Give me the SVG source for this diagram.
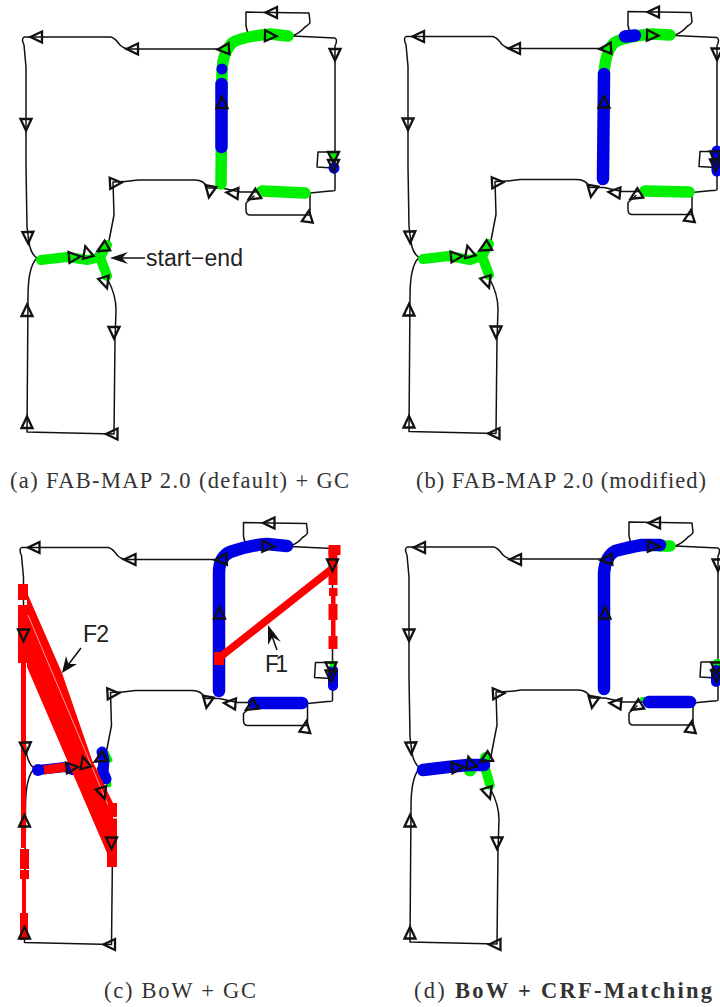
<svg xmlns="http://www.w3.org/2000/svg" xmlns:xlink="http://www.w3.org/1999/xlink" width="720" height="1007" viewBox="0 0 720 1007">
<style>
.bg{fill:#fff}
.trk{fill:none;stroke:#111;stroke-width:1.5;stroke-linejoin:round;stroke-linecap:round}
.tri{fill:none;stroke:#111;stroke-width:2.3;stroke-linejoin:miter}
.g{fill:none;stroke:#00f000;stroke-width:11.500;stroke-linecap:round;stroke-linejoin:round}
.b{fill:none;stroke:#0000e6;stroke-width:12.500;stroke-linecap:round;stroke-linejoin:round}
.gd{fill:#00f000}.bd{fill:#0000e6}
.r{fill:#ff0000}.rl{fill:none;stroke:#ff0000;stroke-linecap:butt}
.cap{font-family:"Liberation Serif","Times New Roman",serif;font-size:22.500px;fill:#333}
.lab{font-family:"Liberation Sans",Arial,sans-serif;font-size:23px;fill:#222}
.ar{fill:#111}.al{stroke:#111;stroke-width:1.5;fill:none}
</style>
<defs>
<polygon id="t" class="tri" points="-5,-5.500 6.500,0 -5,5.500"/>
<path id="track" class="trk" d="M27 432L28 297Q28 268 36 259M37 258Q31 254 29 243L27 227L26 167L26 67L24 45Q21 39 24 37L111 37Q115 38 120 45Q124 49 130 49L222 49Q232 38 270 34L292 36L335 38Q338 40 335 46L335 190Q335 191 330 191L310 193L258 192L240 192L222 188Q215 188 208 188Q204 180 195 180L138 180Q125 182 113 182L114 215L108 246L100 258L108 280Q116 295 116 310L115 340L114 434L27 432M292 36Q300 33 305 27Q310 24 310 22L309 13L246 12L246 26L248 34M310 194L310 215L250 215Q246 215 246 210L246 203L254 196M333 152L318 152L317 167L333 168"/>
<g id="arrows">
<use xlink:href="#t" href="#t" transform="translate(272 12.500) rotate(180)"/>
<use xlink:href="#t" href="#t" transform="translate(37 37) rotate(180)"/>
<use xlink:href="#t" href="#t" transform="translate(133 49) rotate(180)"/>
<use xlink:href="#t" href="#t" transform="translate(224 49) rotate(176)"/>
<use xlink:href="#t" href="#t" transform="translate(270 36) rotate(2)"/>
<use xlink:href="#t" href="#t" transform="translate(335 54) rotate(90)"/>
<use xlink:href="#t" href="#t" transform="translate(26 124) rotate(90)"/>
<use xlink:href="#t" href="#t" transform="translate(28 237) rotate(88)"/>
<use xlink:href="#t" href="#t" transform="translate(222 103) rotate(-90)"/>
<use xlink:href="#t" href="#t" transform="translate(333.500 157) rotate(90)"/>
<use xlink:href="#t" href="#t" transform="translate(333.500 165) rotate(90)"/>
<use xlink:href="#t" href="#t" transform="translate(115 183) rotate(-3)"/>
<use xlink:href="#t" href="#t" transform="translate(210 191) rotate(100)"/>
<use xlink:href="#t" href="#t" transform="translate(233 193) rotate(185)"/>
<use xlink:href="#t" href="#t" transform="translate(254 196) rotate(148)"/>
<use xlink:href="#t" href="#t" transform="translate(308 217) rotate(-82)"/>
<use xlink:href="#t" href="#t" transform="translate(74 257) rotate(-5)"/>
<use xlink:href="#t" href="#t" transform="translate(87 252.500) rotate(-105)"/>
<use xlink:href="#t" href="#t" transform="translate(103 248) rotate(150)"/>
<use xlink:href="#t" href="#t" transform="translate(105 282) rotate(72)"/>
<use xlink:href="#t" href="#t" transform="translate(114 332) rotate(90)"/>
<use xlink:href="#t" href="#t" transform="translate(27 311) rotate(-90)"/>
<use xlink:href="#t" href="#t" transform="translate(27 423) rotate(-90)"/>
<use xlink:href="#t" href="#t" transform="translate(112.500 434) rotate(180)"/>
</g>
</defs>
<rect class="bg" width="720" height="1007"/>

<g id="panel-a">
<use xlink:href="#track" href="#track"/>
<path class="g" d="M221 184L222 70Q223 52 232 43Q240 37 270 34L288 36"/>
<circle class="bd" cx="222" cy="69" r="5.500"/>
<path class="b" d="M221.500 84L221.500 147"/>
<path class="g" d="M262 191L305 193"/>
<path class="g" style="stroke-width:10" d="M41 260L67 257L88 260L100 257L107 245M100 257L107 276"/>
<circle class="gd" cx="334" cy="155" r="4"/><circle class="bd" cx="334" cy="168" r="5.500"/>
<use xlink:href="#arrows" href="#arrows"/>
<g id="start-end-label">
<path class="al" d="M122 258L145 258"/>
<polygon class="ar" points="110,258 128,252 122,258 128,264"/>
<text class="lab" x="146" y="266" textLength="97">start−end</text>
</g>
<text class="cap" x="10" y="488" textLength="339">(a) FAB-MAP 2.0 (default) + GC</text>
</g>

<g id="panel-b">
<use xlink:href="#track" href="#track" transform="translate(382 -0.500)"/>
<path class="g" d="M604 75Q605 52 614 43Q622 37 652 34L670 35"/>
<path class="b" d="M604 74L603 179"/>
<path class="b" d="M625 36.500L635 35.500"/>
<path class="g" d="M645 191L689 192"/>
<path class="g" style="stroke-width:10" d="M423 259L449 256L470 260L482 256L489 244M482 256L489 275"/>
<path class="b" style="stroke-width:11" d="M717 151L717 171"/>
<use xlink:href="#arrows" href="#arrows" transform="translate(382 -0.500)"/>
<text class="cap" x="416" y="488" textLength="290">(b) FAB-MAP 2.0 (modified)</text>
</g>

<g id="panel-c">
<use xlink:href="#track" href="#track" transform="translate(-2.500 510.500)"/>
<path class="b" d="M219 691L219 573Q219 557 230 552Q250 545 267 544L287 546"/>
<path class="b" d="M254 703L302 703"/>
<path class="b" style="stroke-width:10" d="M333 670L333 686"/>
<circle class="gd" cx="333" cy="664" r="3.500"/>
<path class="g" style="stroke-width:5" d="M106 752L110 760M108 778L109 785"/>
<path class="b" style="stroke-width:10" d="M38 770L65 767L72 770"/>
<circle class="bd" cx="38" cy="770" r="6"/>
<path class="b" style="stroke-width:11" d="M102 752L104 760L103 772L106 779"/>
<path class="rl" style="stroke-width:9" d="M44 770L66 767"/>
<g id="match-F1">
<path class="rl" style="stroke-width:7.500" d="M219 658L333 568"/>
<rect class="r" x="214" y="652" width="10" height="13"/>
<rect class="r" x="328.500" y="545" width="12" height="10"/>
<rect class="r" x="328.500" y="550" width="9" height="35"/>
<rect class="r" x="329" y="588" width="8.500" height="8"/>
<rect class="r" x="331" y="596" width="4.500" height="9"/>
<rect class="r" x="328.500" y="604" width="9" height="16"/>
<rect class="r" x="331" y="620" width="4.500" height="16"/>
<rect class="r" x="328.500" y="636" width="9" height="13"/>
</g>
<g id="match-F2">
<polygon class="r" points="28,595 62,673 92,760 113,803 117,803 117,867 107,867 107,853 27,667 27,600"/>
<rect class="r" x="18" y="584" width="10" height="16"/>
<rect class="r" x="18" y="605" width="9" height="58"/>
<rect class="r" x="21" y="663" width="5" height="185"/>
<rect class="r" x="20" y="849" width="9" height="20"/>
<rect class="r" x="20" y="870" width="9" height="9"/>
<rect class="r" x="22" y="879" width="4" height="34"/>
<rect class="r" x="20" y="913" width="8" height="27"/>
<path d="M28 615L108 805" stroke="#fff" stroke-width="0.600" fill="none"/>
<rect x="113" y="817" width="4" height="1.500" fill="#fff"/>
</g>
<use xlink:href="#arrows" href="#arrows" transform="translate(-2.500 510.500)"/>
<g id="F2-label">
<path class="al" d="M81 648L68 665"/>
<polygon class="ar" points="62,673 66,656 68.500,664 77,664"/>
<text class="lab" x="83" y="642" textLength="26">F2</text>
</g>
<g id="F1-label">
<path class="al" d="M277 650L272 636"/>
<polygon class="ar" points="268,625 281,642 272.500,637 268,645"/>
<text class="lab" x="265" y="672" textLength="23">F1</text>
</g>
<text class="cap" x="104" y="998" textLength="152">(c) BoW + GC</text>
</g>

<g id="panel-d">
<use xlink:href="#track" href="#track" transform="translate(383 510)"/>
<path class="g" d="M660 546L670 546"/>
<path class="b" d="M604 689L604 573Q605 557 615 551Q630 547 642 545L660 545"/>
<path class="g" style="stroke-width:4" d="M642 699L644 699"/>
<path class="b" d="M649 702L690 702"/>
<circle class="gd" cx="717" cy="663" r="4"/>
<path class="b" style="stroke-width:10" d="M716 670L716 682"/>
<path class="g" style="stroke-width:9.500" d="M485 757L484 764L490 785"/>
<circle class="gd" cx="470" cy="770" r="6.500"/>
<path class="b" d="M423 770L448 767L468 765L484 765"/>
<use xlink:href="#arrows" href="#arrows" transform="translate(383 510.500)"/>
<text class="cap" x="414" y="998" textLength="298">(d) <tspan font-weight="bold">BoW + CRF-Matching</tspan></text>
</g>
</svg>
